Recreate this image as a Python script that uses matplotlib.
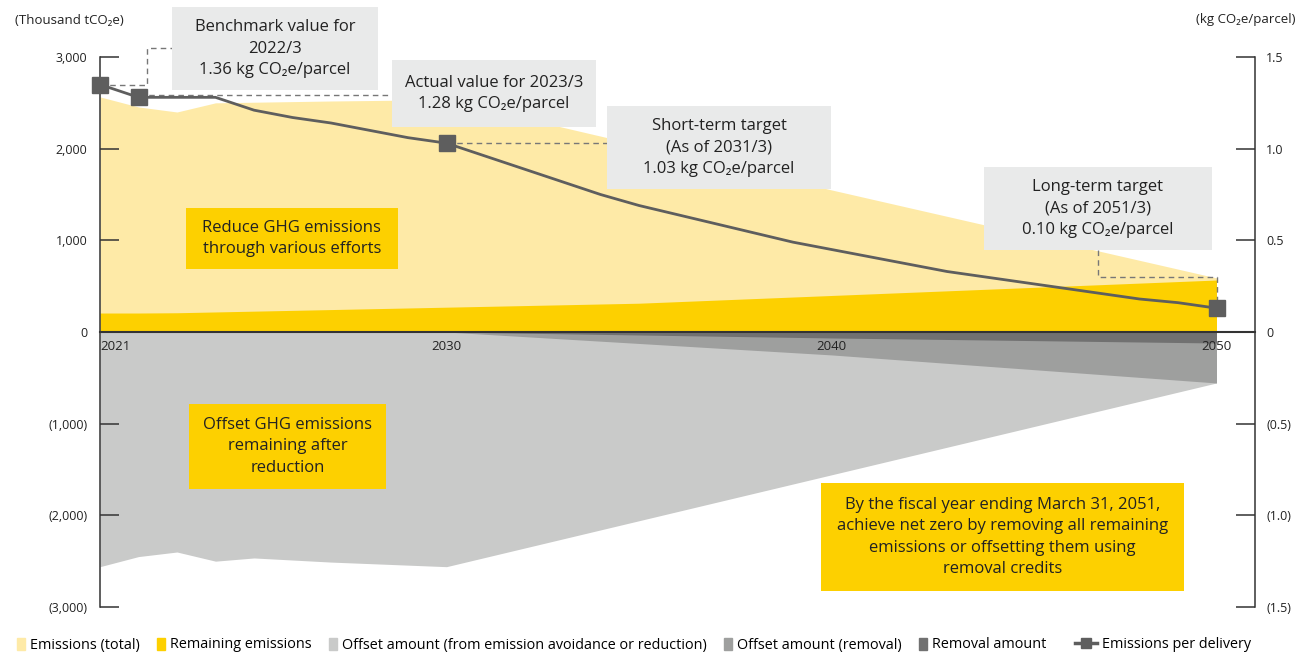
import matplotlib
matplotlib.use("Agg")
import matplotlib.pyplot as plt
from matplotlib.patches import Rectangle, Patch
from matplotlib.lines import Line2D

MAIN = ['Open Sans', 'DejaVu Sans']
plt.rcParams['font.family'] = MAIN

# colours
c_total = '#FEEAA7'
c_remain = '#FDD000'
c_off_red = '#C9CAC9'
c_off_rem = '#9E9F9E'
c_removal = '#717171'
c_line = '#5E5E5E'
c_box = '#E9EAEA'

# --- data (thousand tCO2e, fiscal years) ---
total_years = [2021, 2022, 2023, 2024, 2027, 2029, 2030, 2033, 2040, 2050]
total_vals = [2565, 2455, 2400, 2500, 2520, 2530, 2530, 2235, 1550, 590]

remain_years = [2021, 2022, 2023, 2035, 2050]
remain_vals = [207, 207, 210, 314, 567]

offset_red_years = [2021, 2022, 2023, 2024, 2025, 2027, 2030, 2050]
offset_red_vals = [-2560, -2450, -2400, -2500, -2465, -2510, -2560, -556]

offset_rem_years = [2030, 2040, 2050]
offset_rem_vals = [0, -250, -556]

removal_years = [2030, 2040, 2050]
removal_vals = [0, -65, -120]

# emissions per delivery (kg CO2e/parcel)
line_years = list(range(2021, 2051))
line_vals = [1.35, 1.28, 1.28, 1.28, 1.21, 1.17, 1.14, 1.10, 1.06, 1.03,
             0.96, 0.89, 0.82, 0.75, 0.69, 0.64, 0.59, 0.54, 0.49, 0.45,
             0.41, 0.37, 0.33, 0.30, 0.27, 0.24, 0.21, 0.18, 0.16, 0.13]
marker_years = [2021, 2022, 2030, 2050]

left_ticks = [3000, 2000, 1000, 0, -1000, -2000, -3000]
left_labels = ['3,000', '2,000', '1,000', '0', '(1,000)', '(2,000)', '(3,000)']
right_ticks = [1.5, 1.0, 0.5, 0, -0.5, -1.0, -1.5]
right_labels = ['1.5', '1.0', '0.5', '0', '(0.5)', '(1.0)', '(1.5)']
x_ticks = [2021, 2030, 2040, 2050]

fig = plt.figure(figsize=(12.97, 6.54), dpi=100)
ax = fig.add_axes([100/1297, 47/654, 1155/1297, 550/654])
ax.set_xlim(2021, 2051)
ax.set_ylim(-3000, 3000)

ax.fill_between(total_years, 0, total_vals, color=c_total, lw=0, zorder=1)
ax.fill_between(remain_years, 0, remain_vals, color=c_remain, lw=0, zorder=1.5)
ax.fill_between(offset_red_years, 0, offset_red_vals, color=c_off_red, lw=0, zorder=1)
ax.fill_between(offset_rem_years, 0, offset_rem_vals, color=c_off_rem, lw=0, zorder=1.5)
ax.fill_between(removal_years, 0, removal_vals, color=c_removal, lw=0, zorder=2)

for s in ['top', 'right']:
    ax.spines[s].set_visible(False)
ax.spines['bottom'].set_position(('data', 0))
ax.spines['bottom'].set_color('#333333')
ax.spines['bottom'].set_linewidth(1.5)
ax.spines['bottom'].set_zorder(5)
ax.spines['left'].set_color('#333333')
ax.spines['left'].set_linewidth(1.1)
ax.xaxis.set_zorder(6)

ax.set_yticks(left_ticks)
ax.set_yticklabels(left_labels, fontsize=9, color='#222222')
ax.tick_params(axis='y', direction='in', length=14, width=1.1, color='#333333', pad=9)
ax.set_xticks(x_ticks)
ax.set_xticklabels([str(x) for x in x_ticks], fontsize=9.5, color='#222222')
ax.tick_params(axis='x', length=0, pad=6)
ax.get_xticklabels()[0].set_ha('left')

ax2 = ax.twinx()
ax2.set_ylim(-1.5, 1.5)
for s in ['top', 'left', 'bottom']:
    ax2.spines[s].set_visible(False)
ax2.spines['right'].set_color('#333333')
ax2.spines['right'].set_linewidth(1.1)
ax2.set_yticks(right_ticks)
ax2.set_yticklabels(right_labels, fontsize=9, color='#222222')
ax2.tick_params(axis='y', direction='in', length=14, width=1.1, color='#333333', pad=8)

ax2.plot(line_years, line_vals, color=c_line, lw=2.0, zorder=4)
mk = [line_vals[line_years.index(y)] for y in marker_years]
ax2.plot(marker_years, mk, 's', color=c_line, ms=11.5, zorder=5, clip_on=False)

fig.text(15/1297, 1 - 20/654, '(Thousand tCO\u2082e)', fontsize=9.5, va='center', ha='left', color='#222222')
fig.text(1295/1297, 1 - 20/654, '(kg CO\u2082e/parcel)', fontsize=9.5, va='center', ha='right', color='#222222')

# annotation boxes, coordinates in left-axis data units
T = ax.transData


def box(x0, x1, y0, y1, text, color, fs=12):
    r = Rectangle((x0, y0), x1 - x0, y1 - y0, transform=T, facecolor=color,
                  edgecolor='none', clip_on=False, zorder=6)
    ax2.add_patch(r)
    ax2.text((x0 + x1) / 2, (y0 + y1) / 2, text, transform=T, ha='center', va='center',
             fontsize=fs, color='#222222', linespacing=1.45, zorder=7, clip_on=False)


def dashed(xs, ys):
    ax2.add_line(Line2D(xs, ys, transform=T, color='#777777', lw=1.0, ls=(0, (4, 3)),
                        clip_on=False, zorder=3))


box(2022.87, 2028.22, 2640, 3545, 'Benchmark value for\n2022/3\n1.36 kg CO\u2082e/parcel', c_box)
box(2028.58, 2033.88, 2236, 2967, 'Actual value for 2023/3\n1.28 kg CO\u2082e/parcel', c_box)
box(2034.17, 2039.99, 1560, 2465, 'Short-term target\n(As of 2031/3)\n1.03 kg CO\u2082e/parcel', c_box)
box(2043.96, 2049.88, 895, 1800, 'Long-term target\n(As of 2051/3)\n0.10 kg CO\u2082e/parcel', c_box)

y21 = mk[0] * 2000
y22 = mk[1] * 2000
y30 = mk[2] * 2000
y50 = mk[3] * 2000
dashed([2021, 2022.22, 2022.22, 2022.87], [y21, y21, 3098, 3098])
dashed([2022, 2028.58], [y22 + 30, y22 + 30])
dashed([2030, 2034.17], [y30, y30])
dashed([2046.92, 2046.92, 2050, 2050], [895, 600, 600, y50])

box(2023.23, 2028.74, 687, 1353, 'Reduce GHG emissions\nthrough various efforts', c_remain)
box(2023.31, 2028.43, -1713, -785, 'Offset GHG emissions\nremaining after\nreduction', c_remain)
box(2039.73, 2049.16, -2825, -1647,
    'By the fiscal year ending March 31, 2051,\nachieve net zero by removing all remaining\n'
    'emissions or offsetting them using\nremoval credits', c_remain)

# legend: area swatches, then the line entry as its own legend
area_handles = [Patch(color=c_total), Patch(color=c_remain), Patch(color=c_off_red),
                Patch(color=c_off_rem), Patch(color=c_removal)]
area_labels = ['Emissions (total)', 'Remaining emissions',
               'Offset amount (from emission avoidance or reduction)',
               'Offset amount (removal)', 'Removal amount']
fig.legend(area_handles, area_labels, loc='center left', bbox_to_anchor=(17/1297, 1 - 645/654),
           ncol=5, frameon=False, borderpad=0, borderaxespad=0,
           handlelength=0.55, handleheight=0.9, handletextpad=0.35, columnspacing=1.2,
           prop={'size': 10.4})
fig.legend([Line2D([], [], color=c_line, lw=2.5, marker='s', ms=7)], ['Emissions per delivery'],
           loc='center left', bbox_to_anchor=(1075/1297, 1 - 645/654),
           frameon=False, borderpad=0, borderaxespad=0,
           handlelength=1.5, handletextpad=0.35, prop={'size': 10.4})

fig.savefig('out.png', dpi=100)
